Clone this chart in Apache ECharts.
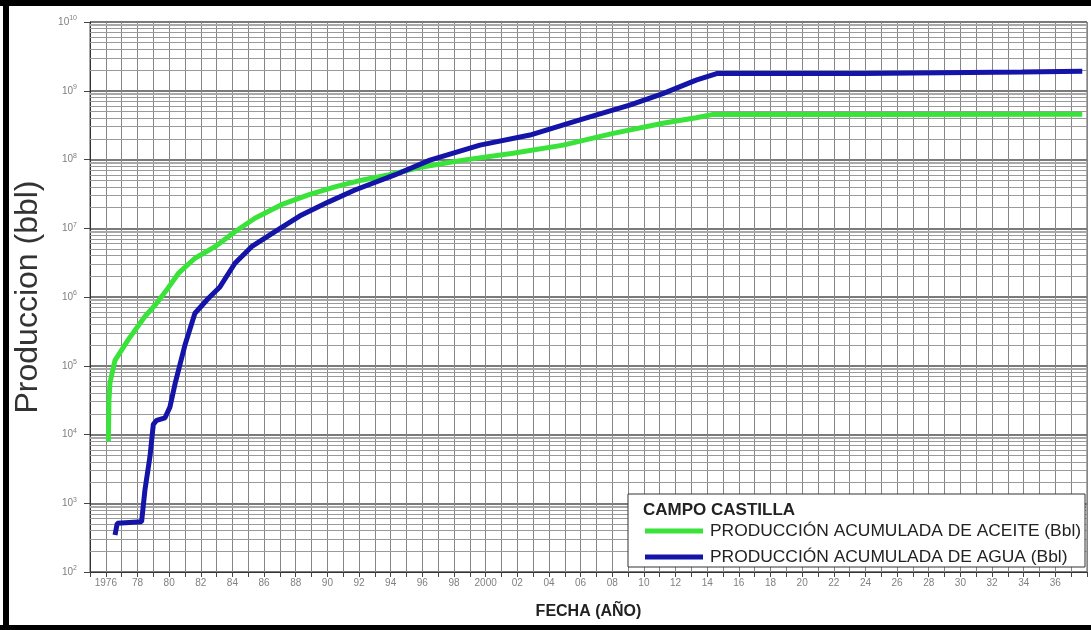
<!DOCTYPE html>
<html>
<head>
<meta charset="utf-8">
<script src="https://cdn.jsdelivr.net/npm/echarts@6.0.0/dist/echarts.min.js"></script>
<style>
html, body { margin: 0; padding: 0; background: #fff; }
#chart { width: 1091px; height: 630px; }
</style>
</head>
<body>
<div id="chart"></div>
<script>
// ===== Campo Castilla — cumulative production (log scale) =====

const FONT = '"Liberation Sans", Arial, sans-serif';

// oil (green)
const oilYears  = [1976.16, 1976.18, 1976.2, 1976.26, 1976.58, 1977.42, 1978.47, 1979.21, 1979.84, 1980.58,
                   1981.63, 1982.9, 1984.16, 1985.42, 1987.1, 1988.8, 1990.48, 1992.16, 1993.84, 1996.0,
                   1998.58, 2001.74, 2004.9, 2008.06, 2011.2, 2013.3, 2014.3, 2024.0, 2037.7];
const oilValues = [7.9e3, 1.6e4, 3.2e4, 5.6e4, 1.2e5, 2.4e5, 5.2e5, 8.1e5, 1.26e6, 2.2e6,
                   3.66e6, 5.4e6, 8.9e6, 1.4e7, 2.2e7, 3.05e7, 4.0e7, 5.0e7, 5.95e7, 7.8e7,
                   9.8e7, 1.23e8, 1.62e8, 2.4e8, 3.36e8, 4.05e8, 4.5e8, 4.5e8, 4.55e8];

// water (blue)
const waterYears  = [1976.58, 1976.72, 1978.26, 1978.47, 1978.79, 1979.0, 1979.21, 1979.74, 1980.05, 1980.4,
                     1981.0, 1981.63, 1982.47, 1983.21, 1984.16, 1985.21, 1986.69, 1988.37, 1990.05, 1991.74,
                     1994.26, 1996.48, 1999.64, 2002.8, 2005.95, 2009.1, 2011.2, 2013.3, 2014.6, 2023.8,
                     2023.9, 2033.9, 2034.0, 2037.7];
const waterValues = [345, 510, 540, 1.55e3, 4.8e3, 1.4e4, 1.6e4, 1.75e4, 2.5e4, 5.8e4,
                     2.0e5, 5.8e5, 9.5e5, 1.4e6, 3.1e6, 5.4e6, 8.9e6, 1.56e7, 2.4e7, 3.6e7,
                     5.96e7, 9.8e7, 1.62e8, 2.27e8, 3.76e8, 6.2e8, 9.1e8, 1.43e9, 1.78e9, 1.78e9,
                     1.87e9, 1.87e9, 1.92e9, 1.92e9];

// x tick labels, one every two years starting 1976
const xLabels = ['1976', '78', '80', '82', '84', '86', '88', '90', '92', '94', '96', '98', '2000',
                 '02', '04', '06', '08', '10', '12', '14', '16', '18', '20', '22', '24', '26', '28',
                 '30', '32', '34', '36'];

const seriesNames = ['PRODUCCIÓN ACUMULADA DE ACEITE (Bbl)', 'PRODUCCIÓN ACUMULADA DE AGUA (Bbl)'];

// log grid: minor lines at 2..9 of every decade
const decadeExps = [2, 3, 4, 5, 6, 7, 8, 9];
const minorMult  = [2, 3, 4, 5, 6, 7, 8, 9];

const gridLines = [];
decadeExps.forEach(e => {
  minorMult.forEach(m => {
    gridLines.push({ yAxis: m * Math.pow(10, e),
      lineStyle: { color: m === 9 ? '#a8a8a8' : '#9a9a9a', width: m === 9 ? 2 : 1, type: 'solid' } });
  });
});

const chart = echarts.init(document.getElementById('chart'), null, { renderer: 'canvas' });

chart.setOption({
  backgroundColor: '#fff',
  animation: false,
  textStyle: { fontFamily: FONT },
  grid: { left: 90, right: 4, top: 22, bottom: 58, show: true, borderColor: '#555', borderWidth: 1 },
  xAxis: {
    type: 'value', min: 1975, max: 2038, interval: 1,
    name: 'FECHA (AÑO)', nameLocation: 'middle', nameGap: 32,
    nameTextStyle: { color: '#222', fontSize: 16, fontWeight: 'bold', fontFamily: FONT },
    axisLine: { lineStyle: { color: '#333', width: 1 } },
    axisTick: { length: 5, lineStyle: { color: '#444' } },
    axisLabel: {
      color: '#808080', fontSize: 10, margin: 6, fontFamily: FONT,
      formatter: v => {
        const i = (v - 1976) / 2;
        return (Number.isInteger(i) && i >= 0 && i < xLabels.length) ? xLabels[i] : '';
      }
    },
    splitLine: { lineStyle: { color: '#858585', width: 1 } }
  },
  yAxis: {
    type: 'log', logBase: 10, min: 100, max: 1e10, splitNumber: 8,
    name: 'Produccion (bbl)', nameLocation: 'middle', nameGap: 46, nameRotate: 90,
    nameTextStyle: { color: '#333', fontSize: 32, fontFamily: FONT },
    axisLine: { show: true, lineStyle: { color: '#333', width: 1 } },
    axisTick: { show: true, length: 6, lineStyle: { color: '#444' } },
    axisLabel: {
      color: '#808080', margin: 13, fontFamily: FONT,
      formatter: v => '{a|10}{b|' + Math.round(Math.log10(v)) + '}',
      rich: {
        a: { fontSize: 10, color: '#808080', fontFamily: FONT },
        b: { fontSize: 7, color: '#808080', fontFamily: FONT, padding: [0, 0, 7, 0] }
      }
    },
    splitLine: { lineStyle: { color: '#7a7a7a', width: 2 } }
  },
  legend: {
    data: seriesNames,
    orient: 'vertical',
    left: 640, top: 517,
    itemWidth: 58, itemHeight: 5, itemGap: 8,
    icon: 'rect',
    z: 110,
    textStyle: { color: '#222', fontSize: 17.4, lineHeight: 18, fontFamily: FONT, padding: [0, 0, 0, 2] }
  },
  graphic: [
    { type: 'rect', z: 100, shape: { x: 628, y: 494, width: 457, height: 73 },
      style: { fill: '#fff', stroke: '#333', lineWidth: 1 } },
    { type: 'text', z: 110, x: 643, y: 502,
      style: { text: 'CAMPO CASTILLA', fill: '#222', font: 'bold 17px ' + FONT } },
    // black photo frame
    { type: 'rect', z: 120, shape: { x: 0, y: 0, width: 1091, height: 6 }, style: { fill: '#000' } },
    { type: 'rect', z: 120, shape: { x: 3, y: 0, width: 6, height: 630 }, style: { fill: '#000' } },
    { type: 'rect', z: 120, shape: { x: 0, y: 625, width: 1091, height: 5 }, style: { fill: '#000' } }
  ],
  series: [
    {
      name: seriesNames[0], type: 'line', symbol: 'none', z: 5,
      lineStyle: { color: '#39e339', width: 5 }, itemStyle: { color: '#39e339' },
      data: oilYears.map((y, i) => [y, oilValues[i]])
    },
    {
      name: seriesNames[1], type: 'line', symbol: 'none', z: 6,
      lineStyle: { color: '#1414a8', width: 5 }, itemStyle: { color: '#1414a8' },
      data: waterYears.map((y, i) => [y, waterValues[i]])
    },
    {
      name: 'grid', type: 'line', data: [], z: 1, silent: true,
      markLine: { silent: true, symbol: 'none', label: { show: false }, animation: false, data: gridLines }
    }
  ]
});
</script>
</body>
</html>
